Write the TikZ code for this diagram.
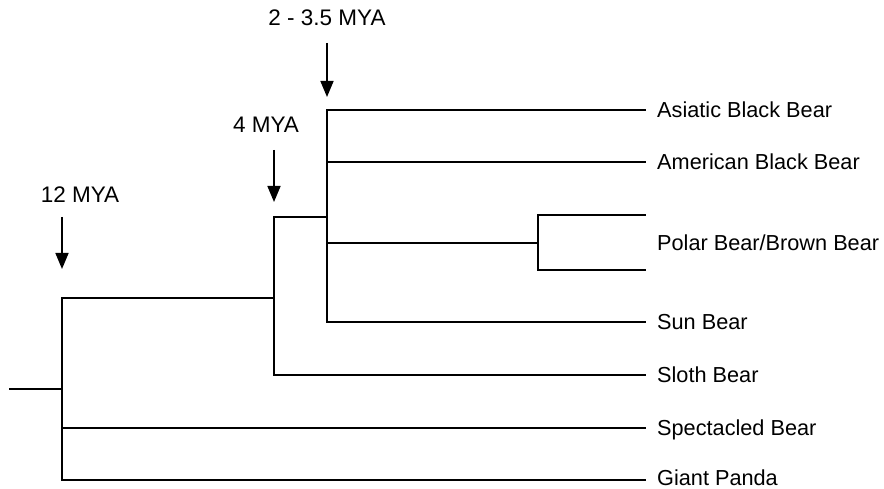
\documentclass[tikz,border=0pt]{standalone}
\usepackage{fontspec}
\setmainfont{Liberation Sans}
\usetikzlibrary{arrows.meta}
\begin{document}
\begin{tikzpicture}[x=1pt,y=-1pt,
  branch/.style={line width=1.9pt, line cap=rect},
  taxon/.style={anchor=base west, inner sep=0pt, font=\fontsize{21.7}{26}\selectfont},
  agelabel/.style={anchor=base, inner sep=0pt, font=\fontsize{22.5}{27}\selectfont},
  agearrow/.style={line width=1.6pt, -{Triangle[length=16pt,width=13pt]}}]
\useasboundingbox (0,0) rectangle (884,489);

% junction coordinates
\coordinate (root) at (10,389);
\coordinate (a0)   at (62,389);
\coordinate (a0t)  at (62,298);
\coordinate (a0b)  at (62,480);
\coordinate (a0s)  at (62,428);
\coordinate (b0)   at (274,298);
\coordinate (b0t)  at (274,217);
\coordinate (b0b)  at (274,375);
\coordinate (c0)   at (327,217);
\coordinate (c0t)  at (327,110);
\coordinate (c0a)  at (327,162);
\coordinate (c0p)  at (327,243);
\coordinate (c0b)  at (327,322);
\coordinate (d0)   at (538,243);
\coordinate (d0t)  at (538,215);
\coordinate (d0b)  at (538,270);

% leaf ends
\coordinate (tAsia)  at (645,110);
\coordinate (tAmer)  at (645,162);
\coordinate (tPol)   at (645,215);
\coordinate (tBrn)   at (645,270);
\coordinate (tSun)   at (645,322);
\coordinate (tSloth) at (645,375);
\coordinate (tSpec)  at (645,428);
\coordinate (tPanda) at (645,480);

% taxon labels
\node[taxon] (lAsia)  at (657,117.8) {Asiatic Black Bear};
\node[taxon] (lAmer)  at (657,169.8) {American Black Bear};
\node[taxon] (lPB)    at (657,250.8) {Polar Bear/Brown Bear};
\node[taxon] (lSun)   at (657,329.8) {Sun Bear};
\node[taxon] (lSloth) at (657,382.8) {Sloth Bear};
\node[taxon] (lSpec)  at (657,435.8) {Spectacled Bear};
\node[taxon] (lPanda) at (657,485) {Giant Panda};

% tree
\draw[branch] (root) -- (a0);
\draw[branch] (a0t) -- (a0b);
\draw[branch] (a0t) -- (b0);
\draw[branch] (a0s) -- (tSpec);
\draw[branch] (a0b) -- (tPanda);
\draw[branch] (b0t) -- (b0b);
\draw[branch] (b0b) -- (tSloth);
\draw[branch] (b0t) -- (c0);
\draw[branch] (c0t) -- (c0b);
\draw[branch] (c0t) -- (tAsia);
\draw[branch] (c0a) -- (tAmer);
\draw[branch] (c0p) -- (d0);
\draw[branch] (c0b) -- (tSun);
\draw[branch] (d0t) -- (d0b);
\draw[branch] (d0t) -- (tPol);
\draw[branch] (d0b) -- (tBrn);

% divergence times
\node[agelabel] (m12) at (80,203) {12 MYA};
\node[agelabel] (m4)  at (266,133) {4 MYA};
\node[agelabel] (m3)  at (327,26) {2 - 3.5 MYA};
\coordinate (s12) at (62,217);  \coordinate (e12) at (62,269);
\coordinate (s4)  at (274,150); \coordinate (e4)  at (274,202);
\coordinate (s3)  at (327,43);  \coordinate (e3)  at (327,97);
\draw[agearrow] (s12) -- (e12);
\draw[agearrow] (s4) -- (e4);
\draw[agearrow] (s3) -- (e3);
\end{tikzpicture}
\end{document}
